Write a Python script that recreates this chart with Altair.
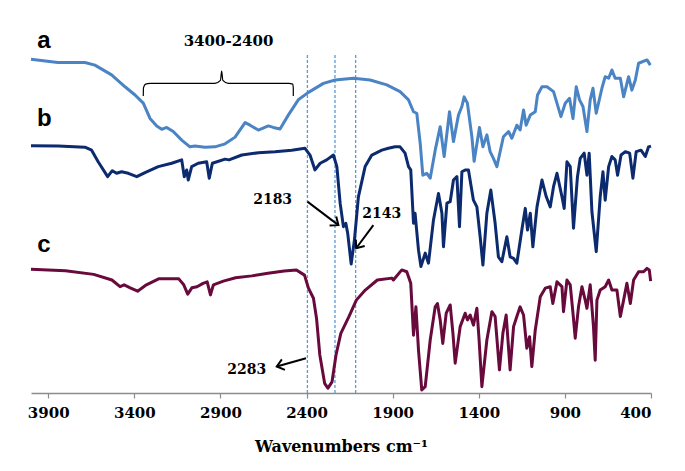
import altair as alt
import pandas as pd

# ---------------- spectra (wavenumber, relative transmittance with offset) ----------------
a_wn = [4000, 3844, 3687, 3629, 3532, 3454, 3396, 3348, 3309, 3270, 3241, 3212, 3174, 3125, 3077, 3048,
        2990, 2932, 2873, 2815, 2757, 2728, 2680, 2622, 2593, 2554, 2506, 2448, 2389, 2302, 2234, 2128,
        2031, 1934, 1857, 1808, 1779, 1760, 1740, 1725, 1702, 1682, 1653, 1624, 1601, 1570, 1547, 1518,
        1498, 1485, 1466, 1440, 1427, 1396, 1376, 1353, 1334, 1315, 1295, 1257, 1227, 1208, 1179, 1160,
        1140, 1125, 1101, 1072, 1059, 1033, 1004, 966, 937, 923, 898, 873, 853, 834, 815, 795, 772, 753,
        737, 718, 685, 666, 646, 627, 608, 578, 559, 530, 511, 491, 472, 423, 404]
a_val = [89.5, 88.6, 88.6, 87.9, 85.3, 82.1, 79.9, 77.7, 73.6, 71.6, 70.7, 71.2, 70.1, 67.8, 66.0, 66.2,
         65.9, 66.0, 66.8, 68.6, 72.5, 71.8, 70.5, 71.6, 71.2, 70.8, 74.5, 78.6, 80.6, 83.0, 83.9, 84.4,
         83.9, 82.6, 80.8, 78.6, 75.4, 75.0, 66.9, 58.4, 58.9, 57.6, 65.1, 71.4, 63.4, 75.4, 67.4, 74.5,
         76.8, 79.4, 77.7, 68.7, 62.1, 71.2, 66.0, 69.2, 64.7, 62.9, 60.7, 68.7, 70.1, 68.3, 71.8, 70.5,
         75.9, 71.8, 74.5, 75.4, 79.9, 82.1, 82.1, 80.8, 76.3, 74.1, 77.7, 79.0, 73.6, 82.1, 78.6, 76.8,
         70.1, 78.6, 81.7, 75.0, 81.7, 84.8, 84.4, 86.6, 84.4, 84.4, 79.4, 84.8, 81.2, 83.9, 88.4, 89.3, 87.9]

b_wn = [4000, 3842, 3687, 3648, 3610, 3555, 3528, 3503, 3474, 3435, 3386, 3338, 3261, 3183, 3125, 3110,
        3096, 3087, 3067, 3029, 2980, 2965, 2947, 2873, 2850, 2776, 2680, 2583, 2486, 2409, 2380, 2351,
        2321, 2283, 2244, 2224, 2205, 2186, 2172, 2161, 2141, 2122, 2099, 2060, 2021, 1963, 1925, 1886,
        1857, 1828, 1808, 1795, 1779, 1770, 1750, 1736, 1711, 1692, 1663, 1634, 1614, 1605, 1585, 1566,
        1547, 1527, 1512, 1498, 1479, 1460, 1431, 1411, 1392, 1376, 1353, 1330, 1305, 1286, 1266, 1237,
        1218, 1198, 1179, 1150, 1130, 1117, 1101, 1086, 1062, 1033, 1008, 985, 966, 946, 917, 904, 888,
        869, 850, 827, 811, 788, 772, 759, 743, 718, 695, 679, 666, 646, 627, 608, 594, 574, 549, 524,
        505, 486, 458, 433, 414, 400]
b_val = [66.3, 66.2, 65.9, 65.1, 62.0, 58.0, 59.6, 58.9, 59.3, 58.9, 58.0, 59.1, 60.7, 61.6, 62.5, 58.0,
         59.8, 57.1, 60.7, 61.6, 62.0, 57.6, 61.6, 62.7, 62.5, 63.8, 64.4, 64.7, 65.1, 65.6, 63.8, 59.8,
         61.6, 62.5, 63.8, 60.7, 50.9, 44.6, 45.5, 42.8, 34.6, 41.0, 52.6, 60.7, 63.8, 65.1, 65.6, 66.0,
         66.0, 64.3, 60.7, 59.8, 45.5, 48.2, 38.3, 33.9, 37.5, 34.8, 46.4, 53.5, 48.2, 39.2, 50.9, 51.3,
         57.1, 58.0, 44.6, 59.3, 59.8, 59.8, 51.7, 49.9, 41.9, 34.3, 48.2, 54.4, 45.5, 36.5, 35.2, 41.9,
         36.5, 36.1, 34.8, 43.7, 49.5, 43.7, 48.2, 39.2, 49.9, 57.1, 52.6, 49.9, 55.3, 58.9, 52.6, 49.5, 62.0,
         60.7, 44.2, 58.0, 62.9, 64.3, 58.4, 64.3, 48.6, 37.9, 52.6, 59.3, 51.7, 60.7, 63.4, 62.5, 58.4, 63.8,
         64.7, 64.3, 57.6, 64.7, 65.1, 63.4, 66.0, 66.2]

c_wn = [4000, 3800, 3636, 3530, 3483, 3459, 3424, 3381, 3330, 3259, 3142, 3113, 3090, 3066, 3036, 3001,
        2977, 2958, 2941, 2883, 2812, 2718, 2624, 2530, 2459, 2412, 2389, 2360, 2342, 2323, 2295, 2276,
        2252, 2229, 2201, 2154, 2111, 2059, 1989, 1905, 1896, 1847, 1818, 1795, 1779, 1765, 1750, 1731,
        1711, 1682, 1653, 1640, 1624, 1609, 1589, 1566, 1550, 1537, 1508, 1479, 1466, 1450, 1431, 1411,
        1398, 1382, 1353, 1324, 1305, 1280, 1260, 1241, 1218, 1198, 1179, 1160, 1140, 1121, 1105, 1092,
        1072, 1043, 1014, 985, 970, 946, 917, 908, 888, 869, 853, 840, 821, 801, 782, 772, 753, 734, 724,
        714, 695, 666, 646, 627, 598, 578, 559, 540, 520, 501, 472, 443, 423, 410, 402]
c_val = [33.2, 32.8, 31.8, 30.3, 28.5, 29.0, 28.2, 27.3, 29.0, 30.6, 30.6, 29.0, 26.5, 28.2, 28.5, 29.4,
         29.8, 26.3, 29.0, 30.0, 30.9, 31.4, 32.1, 32.7, 33.0, 31.6, 28.1, 25.4, 20.0, 10.2, 2.6, 1.3,
         3.0, 10.2, 16.0, 20.5, 24.9, 27.6, 30.3, 30.8, 30.3, 33.0, 32.5, 29.4, 15.5, 23.1, 11.5, 0.8,
         1.7, 14.2, 23.1, 24.0, 19.6, 13.3, 21.4, 23.6, 16.0, 8.0, 17.8, 21.4, 19.6, 20.9, 18.2, 22.7,
         14.2, 1.7, 14.2, 21.8, 20.5, 6.2, 16.0, 20.9, 6.2, 17.8, 20.5, 23.1, 20.9, 12.0, 15.1, 7.1,
         16.9, 25.8, 28.1, 28.5, 24.0, 29.8, 28.5, 21.8, 30.3, 29.0, 21.4, 14.7, 23.1, 28.5, 24.9, 22.7,
         29.0, 17.8, 8.8, 24.9, 27.6, 28.5, 30.3, 27.6, 27.6, 20.5, 24.9, 29.4, 24.0, 30.3, 32.5, 32.5,
         33.4, 33.0, 30.0]

series_names = ["a", "b", "c"]
series_colors = ["#4A84C4", "#0C2B6E", "#680A3C"]

# ---------------- annotations ----------------
marker_wn = [2395, 2235, 2115]          # dashed guide lines
marker_top = [90.6, 90.6, 90.6]

brace_wn = [3348, 3347, 3335, 3309, 2932, 2900, 2893, 2886, 2854, 2502, 2481, 2477, 2477]
brace_val = [79.6, 81.8, 82.8, 83.0, 83.0, 83.8, 86.3, 83.8, 83.0, 83.0, 82.8, 81.8, 79.6]

arrow_labels = ["2183", "2143", "2283"]
arrow_from_wn = [2395, 2012, 2403]
arrow_from_val = [51.3, 45.0, 9.3]
arrow_to_wn = [2215, 2112, 2573]
arrow_to_val = [45.0, 38.8, 7.1]
arrow_angle = [36.9, 126.6, 164.0]
label_wn = [2597, 1963, 2747]
label_val = [50.7, 47.0, 5.2]

letter_text = ["a", "b", "c"]
letter_wn = [3925, 3922, 3925]
letter_val = [92.4, 71.6, 37.9]

range_text = ["3400-2400"]
range_wn = [2853]
range_val = [93.0]

tick_values = [3900, 3400, 2900, 2400, 1900, 1400, 900, 400]

# ---------------- tables ----------------
rows = []
for name, wn, val in zip(series_names, (a_wn, b_wn, c_wn), (a_val, b_val, c_val)):
    n = min(len(wn), len(val))
    for i in range(n):
        rows.append({"series": name, "wn": wn[i], "val": val[i], "idx": i})
spec_df = pd.DataFrame(rows)

dash_df = pd.DataFrame({"wn": marker_wn, "val": [0] * len(marker_wn), "val2": marker_top})
brace_df = pd.DataFrame({"wn": brace_wn, "val": brace_val, "idx": list(range(len(brace_wn)))})
arrow_df = pd.DataFrame({"wn": arrow_from_wn, "val": arrow_from_val,
                         "wn2": arrow_to_wn, "val2": arrow_to_val})
head_df = pd.DataFrame({"wn": arrow_to_wn, "val": arrow_to_val, "ang": arrow_angle})
num_df = pd.DataFrame({"wn": label_wn, "val": label_val, "txt": arrow_labels})
letter_df = pd.DataFrame({"wn": letter_wn, "val": letter_val, "txt": letter_text})
range_df = pd.DataFrame({"wn": range_wn, "val": range_val, "txt": range_text})

SERIF = "DejaVu Serif"

X = alt.X(
    "wn:Q",
    scale=alt.Scale(domain=[400, 4000], reverse=True, nice=False, zero=False),
    axis=alt.Axis(
        values=tick_values, format="d", grid=False, title="Wavenumbers cm\u207b\u00b9",
        domainColor="#8C8C8C", domainWidth=1.5, tickColor="#8C8C8C", tickWidth=1.2, tickSize=5,
        labelFont=SERIF, labelFontWeight="bold", labelFontSize=15, labelColor="black", labelPadding=7,
        titleFont=SERIF, titleFontWeight="bold", titleFontSize=16, titleColor="black", titlePadding=18,
    ),
)
Y = alt.Y("val:Q", scale=alt.Scale(domain=[0, 100], nice=False, zero=False), axis=None)

lines = alt.Chart(spec_df).mark_line(strokeWidth=3, strokeJoin="round").encode(
    x=X, y=Y,
    color=alt.Color("series:N", scale=alt.Scale(domain=series_names, range=series_colors), legend=None),
    detail="series:N",
    order="idx:Q",
)

dashes = alt.Chart(dash_df).mark_rule(color="#5B9BD5", strokeWidth=1.3, strokeDash=[3, 2]).encode(
    x=X, y=Y, y2="val2:Q"
)

brace = alt.Chart(brace_df).mark_line(color="black", strokeWidth=1.2, interpolate="monotone").encode(
    x=X, y=Y, order="idx:Q"
)

arrows = alt.Chart(arrow_df).mark_rule(color="black", strokeWidth=2).encode(
    x=X, y=Y, x2="wn2:Q", y2="val2:Q"
)

heads = alt.Chart(head_df).mark_point(
    shape="M-1,-0.8L0,0L-1,0.8", filled=False, color="black", strokeWidth=2, size=190, opacity=1
).encode(x=X, y=Y, angle=alt.Angle("ang:Q", scale=None))

numbers = alt.Chart(num_df).mark_text(
    font=SERIF, fontWeight="bold", fontSize=14, color="black", align="center", baseline="alphabetic"
).encode(x=X, y=Y, text="txt:N")

letters = alt.Chart(letter_df).mark_text(
    font="Liberation Sans", fontWeight="bold", fontSize=24, color="black", align="center",
    baseline="alphabetic"
).encode(x=X, y=Y, text="txt:N")

range_label = alt.Chart(range_df).mark_text(
    font=SERIF, fontWeight="bold", fontSize=15, color="black", align="center", baseline="alphabetic"
).encode(x=X, y=Y, text="txt:N")

chart = alt.layer(dashes, lines, brace, arrows, heads, numbers, letters, range_label).properties(
    width=620, height=373,
    autosize=alt.AutoSizeParams(type="none"),
    padding={"left": 23, "top": 12, "right": 26, "bottom": 70},
    background="white",
).configure_view(strokeWidth=0)

chart.save("out.html", embed_options={"renderer": "svg", "actions": False})
